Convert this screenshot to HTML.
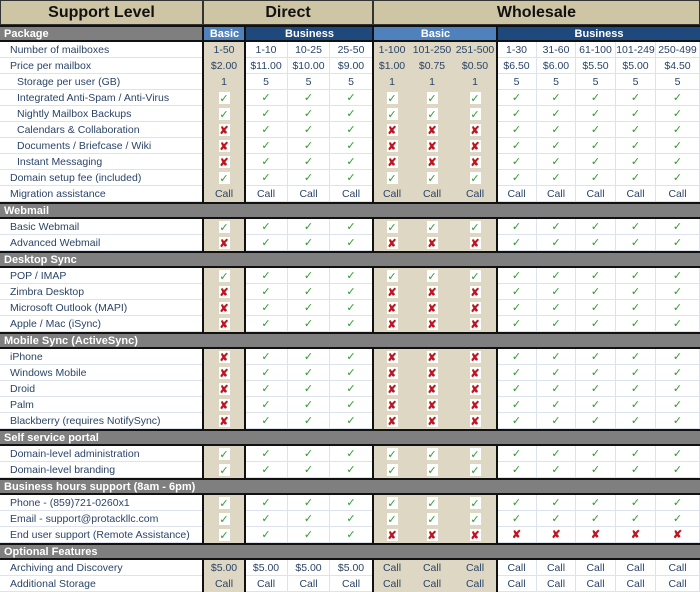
<!DOCTYPE html>
<html><head><meta charset="utf-8"><style>
body{margin:0;width:700px;height:592px;overflow:hidden;background:#fff;font-family:"Liberation Sans",sans-serif}
#t{position:relative;width:700px;height:592px}
.c{position:absolute;box-sizing:border-box;display:flex;align-items:center;justify-content:center;font-size:10.5px;color:#2b4468;white-space:nowrap;overflow:hidden}
.lab{justify-content:flex-start;padding-left:10px}
.ind{padding-left:17px}
.sec{background:#7f7f7f;color:#fff;font-weight:bold;font-size:11px;justify-content:flex-start;padding-left:4px;border-top:2px solid #111;border-bottom:2px solid #111;z-index:3}
.top{background:#cdc5a4;color:#111;font-weight:bold;font-size:16px;border:1px solid #333}
.tan{background:#ddd7c3}
.grid{border-right:1px solid #dde3ec;border-bottom:1px solid #dde3ec}
.ok{color:#2e9a2e;font-size:11px}
.no{color:#c0141e;font-size:11px;font-weight:bold}
.box{background:#fff;width:11px;height:12px;display:flex;align-items:center;justify-content:center}
.vl{position:absolute;width:2px;background:#111;z-index:1}
</style></head><body>
<div id="t"></div>
<script>
const colX=[0,203,245,288,330,373,411,453,497,537,576,616,656,700];
const tanCols=[1,5,6,7];
const rows=[
['sec','Package'],
['mailboxes','Number of mailboxes',0,['1-50','1-10','10-25','25-50','1-100','101-250','251-500','1-30','31-60','61-100','101-249','250-499']],
['price','Price per mailbox',0,['$2.00','$11.00','$10.00','$9.00','$1.00','$0.75','$0.50','$6.50','$6.00','$5.50','$5.00','$4.50']],
['storage','Storage per user (GB)',1,['1','5','5','5','1','1','1','5','5','5','5','5']],
['antispam','Integrated Anti-Spam / Anti-Virus',1,'YYYYYYYYYYYY'],
['backups','Nightly Mailbox Backups',1,'YYYYYYYYYYYY'],
['calendars','Calendars & Collaboration',1,'NYYYNNNYYYYY'],
['documents','Documents / Briefcase / Wiki',1,'NYYYNNNYYYYY'],
['im','Instant Messaging',1,'NYYYNNNYYYYY'],
['domain-fee','Domain setup fee (included)',0,'YYYYYYYYYYYY'],
['migration','Migration assistance',0,Array(12).fill('Call')],
['sec','Webmail'],
['basic-webmail','Basic Webmail',0,'YYYYYYYYYYYY'],
['advanced-webmail','Advanced Webmail',0,'NYYYNNNYYYYY'],
['sec','Desktop Sync'],
['pop-imap','POP / IMAP',0,'YYYYYYYYYYYY'],
['zimbra-desktop','Zimbra Desktop',0,'NYYYNNNYYYYY'],
['outlook','Microsoft Outlook (MAPI)',0,'NYYYNNNYYYYY'],
['apple','Apple / Mac (iSync)',0,'NYYYNNNYYYYY'],
['sec','Mobile Sync (ActiveSync)'],
['iphone','iPhone',0,'NYYYNNNYYYYY'],
['windows-mobile','Windows Mobile',0,'NYYYNNNYYYYY'],
['droid','Droid',0,'NYYYNNNYYYYY'],
['palm','Palm',0,'NYYYNNNYYYYY'],
['blackberry','Blackberry (requires NotifySync)',0,'NYYYNNNYYYYY'],
['sec','Self service portal'],
['domain-admin','Domain-level administration',0,'YYYYYYYYYYYY'],
['domain-branding','Domain-level branding',0,'YYYYYYYYYYYY'],
['sec','Business hours support (8am - 6pm)'],
['phone','Phone - (859)721-0260x1',0,'YYYYYYYYYYYY'],
['email','Email - support@protackllc.com',0,'YYYYYYYYYYYY'],
['remote','End user support (Remote Assistance)',0,'YYYYNNNNNNNN'],
['sec','Optional Features'],
['archiving','Archiving and Discovery',0,['$5.00','$5.00','$5.00','$5.00','Call','Call','Call','Call','Call','Call','Call','Call']],
['add-storage','Additional Storage',0,Array(12).fill('Call')]
];
const T=document.getElementById('t');
function mk(x,y,w,h,cls,txt){const d=document.createElement('div');d.className='c '+cls;d.style.left=x+'px';d.style.top=y+'px';d.style.width=w+'px';d.style.height=h+'px';if(txt!==undefined)d.textContent=txt;T.appendChild(d);return d;}
let e;
e=mk(0,0,203,25,'top','Support Level');


e=mk(203,0,170,25,'top','Direct');


e=mk(373,0,327,25,'top','Wholesale');


let y=25;
rows.forEach(r=>{
 if(r[0]==='sec'){
  const h=17;
  e=mk(0,y,700,h,'sec',r[1]);
  
  
  if(r[1]==='Package'){
   e.style.width='203px';
   const bl=[[203,245,'#4f81bd','Basic','direct-basic-tier'],[245,373,'#1f497d','Business','direct-business-tier'],[373,497,'#4f81bd','Basic','wholesale-basic-tier'],[497,700,'#1f497d','Business','wholesale-business-tier']];
   bl.forEach(b=>{const d=mk(b[0]-1,y,b[1]-b[0]+1,h,'sec',b[3]);d.style.justifyContent='center';d.style.background=b[2];d.style.paddingLeft='0';d.style.borderLeft='2px solid #111';
    
    });
  }
  y+=h;return;
 }
 const h=16;
 e=mk(0,y,203,h,'lab grid'+(r[2]?' ind':''),r[1]);
 
 
 for(let i=0;i<12;i++){
  const col=i+1,tan=tanCols.includes(col);
  const v=r[3][i];
  const d=mk(colX[col],y,colX[col+1]-colX[col],h,tan?'tan':'grid');
  if(v==='Y'||v==='N'){
   const s=document.createElement('span');s.className=(v==='Y'?'ok':'no')+(tan?' box':'');s.textContent=v==='Y'?'✓':'✘';d.appendChild(s);
  } else d.textContent=v;
  
  
 }
 y+=h;
});
[203,245,373,497].forEach(x=>{const v=document.createElement('div');v.className='vl';v.style.left=(x-1)+'px';v.style.top='25px';v.style.height='567px';T.appendChild(v);
 
 });
</script>
</body></html>
